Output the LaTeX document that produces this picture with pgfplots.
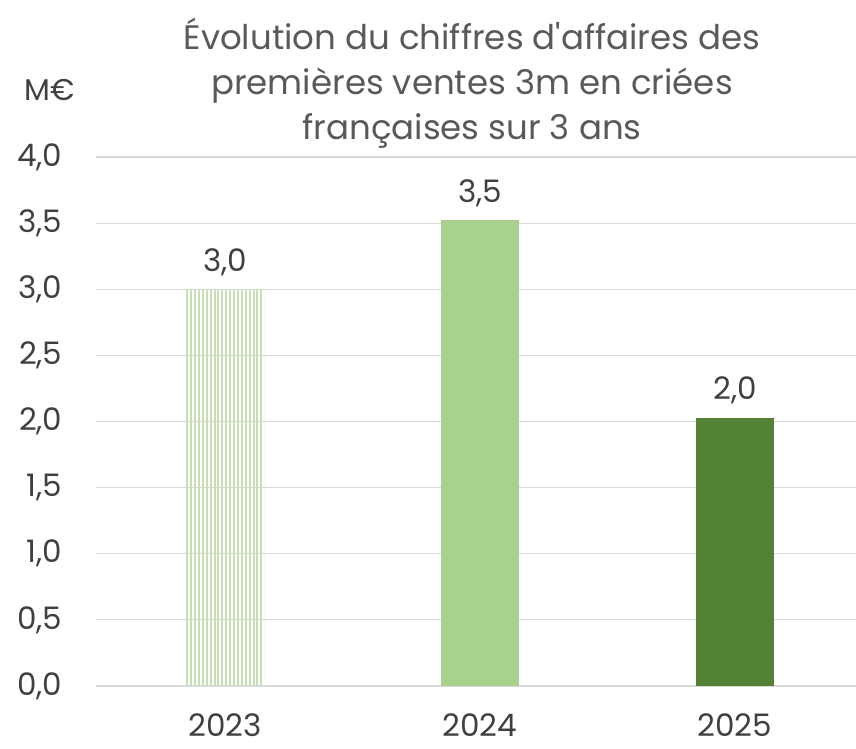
\documentclass[border=0pt]{standalone}
\usepackage{pgfplots}
\pgfplotsset{compat=1.18}
\usepackage{fontspec}
\setmainfont{Poppins}
\usetikzlibrary{patterns.meta}
\definecolor{txt}{HTML}{404040}
\definecolor{ttl}{HTML}{595959}
\definecolor{grd}{HTML}{D9D9D9}
\definecolor{g1}{HTML}{C5E0B4}
\definecolor{g2}{HTML}{A9D18E}
\definecolor{g3}{HTML}{548235}
\begin{document}
\begin{tikzpicture}[x=1pt,y=1pt]
\path[use as bounding box] (-96,-63) rectangle (760,686);
\begin{axis}[
    at={(0,0)}, anchor=south west,
    scale only axis, width=760pt, height=529pt,
    xmin=-0.506, xmax=2.475,
    ymin=0, ymax=4,
    ytick={0,0.5,...,4},
    xtick={0,1,2},
    xticklabels={2023,2024,2025},
    yticklabel={\pgfmathprintnumber[fixed,fixed zerofill,precision=1,use comma]{\tick}},
    /pgf/number format/assume math mode=true,
    ymajorgrids, grid style={grd, line width=1.2pt},
    axis x line=bottom, axis y line=left,
    x axis line style={grd, line width=1.5pt, -},
    y axis line style={draw=none},
    major tick length=0pt,
    tick label style={font=\fontsize{31}{36}\selectfont, text=txt},
    yticklabel style={xshift=-30pt},
    xticklabel style={yshift=-24pt},
    ybar, bar width=78pt, bar shift=0pt,
    clip=false,
    nodes near coords style={font=\fontsize{31}{36}\selectfont, text=txt, yshift=10pt},
]
\addplot[draw=none, pattern={Lines[angle=90,distance=3.9pt,line width=2pt]}, pattern color=g1,
    point meta=explicit symbolic, nodes near coords]
    coordinates {(0,3.0) [3,0]};
\addplot[draw=none, fill=g2, point meta=explicit symbolic, nodes near coords]
    coordinates {(1,3.52) [3,5]};
\addplot[draw=none, fill=g3, point meta=explicit symbolic, nodes near coords]
    coordinates {(2,2.03) [2,0]};
\end{axis}
\node[font=\fontsize{30}{36}\selectfont, text=txt] at (-46,596) {M€};
\node[font=\fontsize{34}{45}\selectfont, text=ttl, align=center, anchor=north] at (376,672)
    {Évolution du chiffres d\textquotesingle affaires des\\premières ventes 3m en criées\\françaises sur 3 ans};
\end{tikzpicture}
\end{document}
